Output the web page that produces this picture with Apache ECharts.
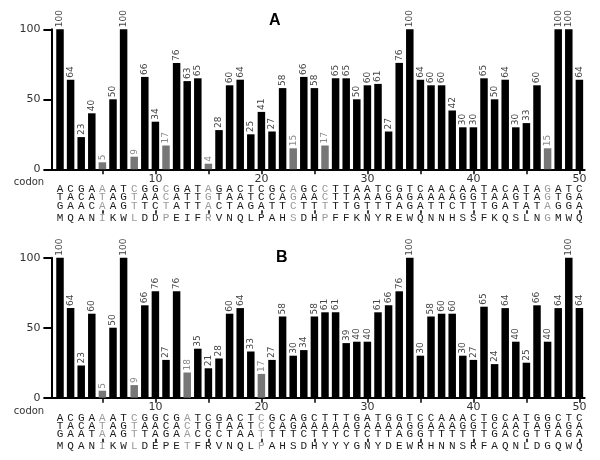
<!DOCTYPE html>
<html><head><meta charset="utf-8">
<script src="https://cdn.jsdelivr.net/npm/echarts@6/dist/echarts.min.js"></script>
<style>html,body{margin:0;padding:0;background:#fff}#c{width:600px;height:460px}</style>
</head><body><div id="c"></div>
<script>
// ---- data ----
const positions = Array.from({length: 50}, (_, i) => i + 1);
const valuesA = [100,64,23,40,5,50,100,9,66,34, 17,76,63,65,4,28,60,64,25,41, 27,58,15,66,58,17,65,65,50,60, 61,27,76,100,64,60,60,42,30,30, 65,50,64,30,33,60,15,100,100,64];
const valuesB = [100,64,23,60,5,50,100,9,66,76, 27,76,18,35,21,28,60,64,33,17, 27,58,30,34,58,61,61,39,40,40, 61,66,76,100,30,58,60,60,30,27, 65,24,64,40,25,66,40,64,100,64];
const grayA = [5,8,11,15,23,26,47];
const grayB = [5,8,13,20];
const codonA1 = "ACGAAATCGGCGATAGACTCGC" + "AGCCTTAATCGTCAACAATACATAGATC";
const codonA2 = "TACATAGTAACATTGTAATCCA" + "GAACTTAAAGAGAAAAGGTAAGTAGTGA";
const codonA3 = "GAACAAGTTCTATTACTAGATT" + "CTTTTTGTTTAGATTCTTTGATATAGGA";
const aminoA  = "MQANIKWLDDPEIFRVNQLPAH" + "SDHPFFKNYREWQNNHSSFKQSLNGMWQ";
const codonB1 = "ACGAAATCGGCGATCGACTCGC" + "AGCTTTGATGGTCCAAACTGCATGGCTC";
const codonB2 = "TACATAGTAACACTGTAATCCA" + "GAAAAAGAAAAGGAAAGGTCAATAGAGA";
const codonB3 = "GAATAAGTTAGAACCCTAATTT" + "TCTTTCTCTTAGGTTTTTTGACGTTAGA";
const aminoB  = "MQANIKWLDEPETFRVNQLPAH" + "SDHYYYGNYDEWRHNNSRFAQNLDGQWQ";
const yTicks = [0, 50, 100];
const xTickLabels = [10, 20, 30, 40, 50];
const panelTitles = ['A', 'B'];

// ---- layout ----
const U = 10.6, X0 = 49.4, H = 140;
const panels = [
  {title: panelTitles[0], top: 29.3, values: valuesA, gray: grayA, rows: [codonA1, codonA2, codonA3, aminoA], tx: 269, ty: 13},
  {title: panelTitles[1], top: 257.7, values: valuesB, gray: grayB, rows: [codonB1, codonB2, codonB3, aminoB], tx: 276, ty: 250}
];
const rowOffsets = [14.5, 22.5, 31.2, 43];
const FONT = 'DejaVu Sans';
const MONO = 'Liberation Mono';

const grid = [], xAxis = [], yAxis = [], series = [], title = [], graphic = [];
panels.forEach((p, k) => {
  const g0 = grid.length;
  grid.push({left: X0, top: p.top, width: 50.5 * U, height: H});
  grid.push({left: X0 + 5 * U, top: p.top, width: 45 * U, height: H});
  grid.push({left: X0, top: p.top, width: 50 * U, height: H});
  const y0 = yAxis.length;
  yAxis.push({gridIndex: g0, type: 'value', position: 'left', min: yTicks[0], max: yTicks[2], interval: yTicks[1] - yTicks[0], offset: -2,
    axisLine: {show: true, lineStyle: {color: '#000', width: 2}},
    axisTick: {show: true, length: 8, lineStyle: {color: '#000', width: 2}},
    axisLabel: {color: '#333', fontFamily: FONT, fontSize: 11, margin: 11},
    splitLine: {show: false}});
  yAxis.push({gridIndex: g0 + 1, type: 'value', min: 0, max: 100, show: false});
  yAxis.push({gridIndex: g0 + 2, type: 'value', min: 0, max: 100, show: false});
  const xm = xAxis.length;
  xAxis.push({gridIndex: g0, type: 'value', position: 'bottom', min: 0, max: 50.5,
    axisLine: {show: true, onZero: false, lineStyle: {color: '#000', width: 2}},
    axisTick: {show: false}, axisLabel: {show: false}, splitLine: {show: false}});
  xAxis.push({gridIndex: g0 + 1, type: 'value', position: 'bottom', min: 5, max: 50, interval: 5,
    axisLine: {show: false, onZero: false},
    axisTick: {show: true, length: 5, lineStyle: {color: '#000', width: 1.5}},
    axisLabel: {formatter: v => xTickLabels.includes(v) ? String(v) : '', color: '#333', fontFamily: FONT, fontSize: 11, margin: 4},
    splitLine: {show: false}});
  xAxis.push({gridIndex: g0 + 1, type: 'value', position: 'bottom', min: 5, max: 50, interval: 5, offset: 41,
    axisLine: {show: false, onZero: false},
    axisTick: {show: true, length: 3.5, lineStyle: {color: '#000', width: 1.5}},
    axisLabel: {show: false}, splitLine: {show: false}});
  p.rows.forEach((r, j) => {
    xAxis.push({gridIndex: g0 + 2, type: 'value', position: 'bottom', min: 0, max: 50, interval: 1, offset: rowOffsets[j],
      axisLine: {show: false, onZero: false}, axisTick: {show: false}, splitLine: {show: false},
      axisLabel: {margin: 0, fontFamily: MONO, fontSize: 11,
        formatter: v => {
          if (!Number.isInteger(v) || v < 1 || v > r.length) return '';
          return (p.gray.includes(v) ? '{g|' : '{k|') + r[v - 1] + '}';
        },
        rich: {
          k: {color: '#1a1a1a', fontFamily: MONO, fontSize: 11, lineHeight: 11},
          g: {color: '#9a9a9a', fontFamily: MONO, fontSize: 11, lineHeight: 11}
        }}});
  });
  series.push({type: 'bar', xAxisIndex: xm, yAxisIndex: y0, barWidth: 7.5,
    data: p.values.map((v, i) => {
      const g = p.gray.includes(positions[i]);
      return {value: [positions[i], v], itemStyle: {color: g ? '#777' : '#000'}, label: {color: g ? '#888' : '#444'}};
    }),
    label: {show: true, position: 'top', distance: 2, rotate: 90, align: 'left', verticalAlign: 'middle',
      fontFamily: FONT, fontSize: 9, formatter: q => String(q.value[1])}});
  title.push({text: p.title, left: p.tx, top: p.ty, padding: 0,
    textStyle: {fontFamily: 'Liberation Sans', fontWeight: 'bold', fontSize: 16, color: '#000'}});
  graphic.push({type: 'text', x: 29, y: p.top + H + 13.4,
    style: {text: 'codon', fill: '#333', font: '10px "DejaVu Sans"', align: 'center', verticalAlign: 'middle', textAlign: 'center', textVerticalAlign: 'middle'}});
});

const chart = echarts.init(document.getElementById('c'), null, {renderer: 'canvas'});
chart.setOption({animation: false, backgroundColor: '#fff', title, grid, xAxis, yAxis, series, graphic});
</script>
</body></html>
